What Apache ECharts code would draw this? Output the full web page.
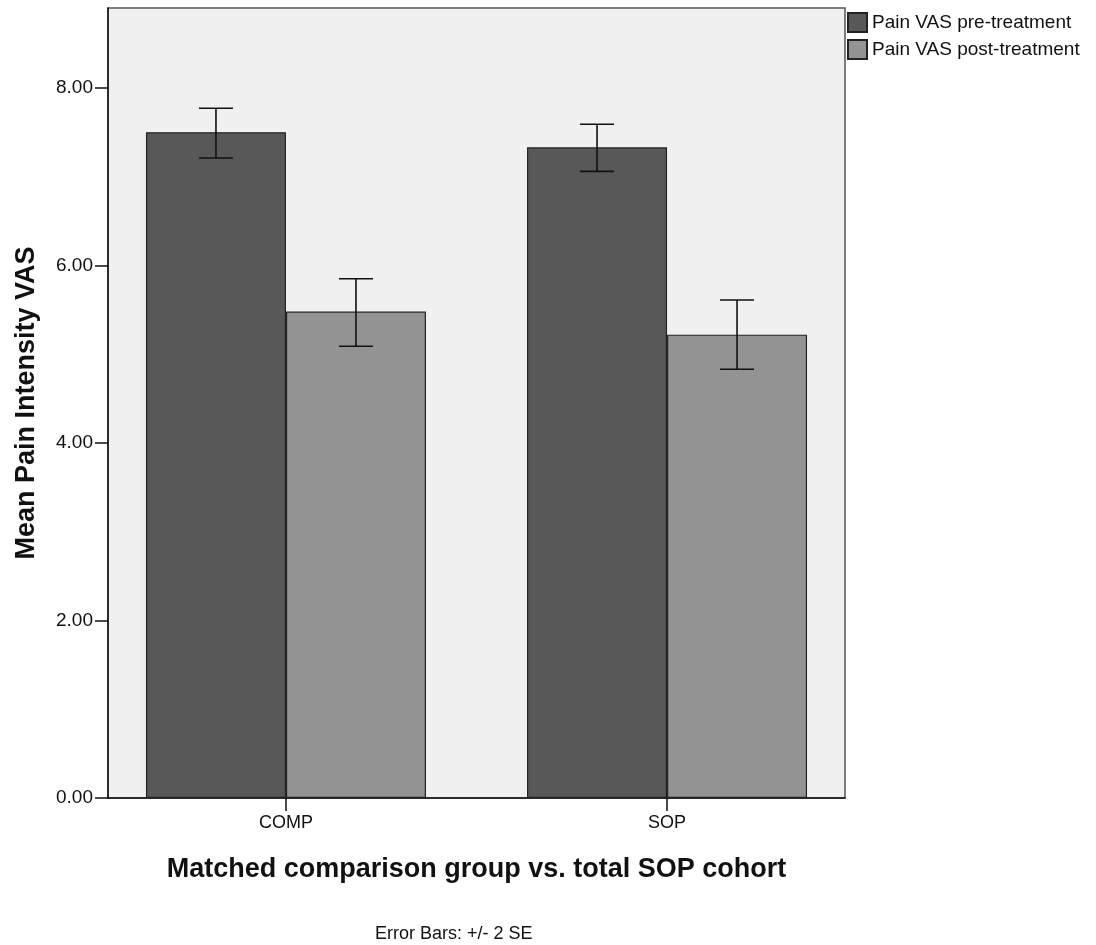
<!DOCTYPE html>
<html>
<head>
<meta charset="utf-8">
<script src="https://cdn.jsdelivr.net/npm/echarts@6/dist/echarts.min.js"></script>
<style>
  html, body { margin: 0; padding: 0; background: #ffffff; }
  #chart { width: 1096px; height: 945px; }
</style>
</head>
<body>
<div id="chart"></div>
<script>
// Groups on the horizontal axis
const categories = ['COMP', 'SOP'];
const seriesNames = ['Pain VAS pre-treatment', 'Pain VAS post-treatment'];

// Mean Pain VAS per group
const preMeans = [7.50, 7.33];
const postMeans = [5.48, 5.22];

// Error bar bounds (+/- 2 SE)
const preLower = [7.21, 7.06];
const preUpper = [7.77, 7.59];
const postLower = [5.09, 4.83];
const postUpper = [5.85, 5.61];

// Y axis tick values
const yTicks = [0, 2, 4, 6, 8];

const FONT = '"Liberation Sans", Arial, sans-serif';
const BAR_W = 140;
const CAP_HALF = 17;

const chart = echarts.init(document.getElementById('chart'), null, { renderer: 'canvas' });

function barData(values) {
  return values.map((v, i) => [i, v]);
}
function errData(lower, upper) {
  return lower.map((lo, i) => [i, lo, upper[i]]);
}
function errorRenderer(offset) {
  return function (params, api) {
    const x = api.value(0);
    const lo = api.coord([x, api.value(1)]);
    const hi = api.coord([x, api.value(2)]);
    const cx = lo[0] + offset;
    const style = { stroke: '#111111', lineWidth: 1.6 };
    return {
      type: 'group',
      children: [
        { type: 'line', shape: { x1: cx, y1: hi[1], x2: cx, y2: lo[1] }, style },
        { type: 'line', shape: { x1: cx - CAP_HALF, y1: hi[1], x2: cx + CAP_HALF, y2: hi[1] }, style },
        { type: 'line', shape: { x1: cx - CAP_HALF, y1: lo[1], x2: cx + CAP_HALF, y2: lo[1] }, style }
      ]
    };
  };
}

const option = {
  animation: false,
  backgroundColor: '#ffffff',
  textStyle: { fontFamily: FONT },
  title: {
    text: 'Error Bars: +/- 2 SE',
    left: 375,
    top: 925,
    padding: 0,
    textStyle: { fontFamily: FONT, fontWeight: 'normal', fontSize: 18, color: '#111111' }
  },
  legend: {
    orient: 'vertical',
    left: 847,
    top: 12,
    padding: 0,
    itemWidth: 19,
    itemHeight: 19,
    itemGap: 6,
    icon: 'rect',
    textStyle: { fontFamily: FONT, fontSize: 19, color: '#111111' },
    data: seriesNames
  },
  grid: {
    left: 108,
    right: 251,
    top: 8,
    bottom: 147,
    show: true,
    backgroundColor: '#f0f0f0',
    borderColor: '#555555',
    borderWidth: 1.5
  },
  xAxis: {
    type: 'value',
    min: -0.467,
    max: 1.467,
    splitLine: { show: false },
    axisLine: { show: true, onZero: false, lineStyle: { color: '#111111', width: 1.5 } },
    axisTick: { show: true, customValues: [0, 1], length: 13, lineStyle: { color: '#111111', width: 1.5 } },
    axisLabel: {
      customValues: [0, 1],
      formatter: (v) => categories[Math.round(v)],
      margin: 16,
      fontSize: 18,
      color: '#111111',
      fontFamily: FONT
    },
    name: 'Matched comparison group vs. total SOP cohort',
    nameLocation: 'middle',
    nameGap: 58,
    nameTextStyle: { fontFamily: FONT, fontWeight: 'bold', fontSize: 27, color: '#111111' }
  },
  yAxis: {
    type: 'value',
    min: 0,
    max: 8.9,
    splitLine: { show: false },
    axisLine: { show: true, onZero: false, lineStyle: { color: '#111111', width: 1.5 } },
    axisTick: { show: true, customValues: yTicks, length: 13, lineStyle: { color: '#111111', width: 1.5 } },
    axisLabel: {
      customValues: yTicks,
      formatter: (v) => v.toFixed(2),
      margin: 15,
      fontSize: 19,
      color: '#111111',
      fontFamily: FONT
    },
    name: 'Mean Pain Intensity VAS',
    nameLocation: 'middle',
    nameGap: 68,
    nameTextStyle: { fontFamily: FONT, fontWeight: 'bold', fontSize: 27, color: '#111111' }
  },
  series: [
    {
      name: seriesNames[0],
      type: 'bar',
      barWidth: BAR_W,
      barGap: '0%',
      data: barData(preMeans),
      itemStyle: { color: '#585858', borderColor: '#222222', borderWidth: 1.2 }
    },
    {
      name: seriesNames[1],
      type: 'bar',
      barWidth: BAR_W,
      barGap: '0%',
      data: barData(postMeans),
      itemStyle: { color: '#939393', borderColor: '#222222', borderWidth: 1.2 }
    },
    {
      type: 'custom',
      renderItem: errorRenderer(-BAR_W / 2),
      encode: { x: 0, y: [1, 2] },
      data: errData(preLower, preUpper),
      z: 5
    },
    {
      type: 'custom',
      renderItem: errorRenderer(BAR_W / 2),
      encode: { x: 0, y: [1, 2] },
      data: errData(postLower, postUpper),
      z: 5
    }
  ]
};

chart.setOption(option);
</script>
</body>
</html>
